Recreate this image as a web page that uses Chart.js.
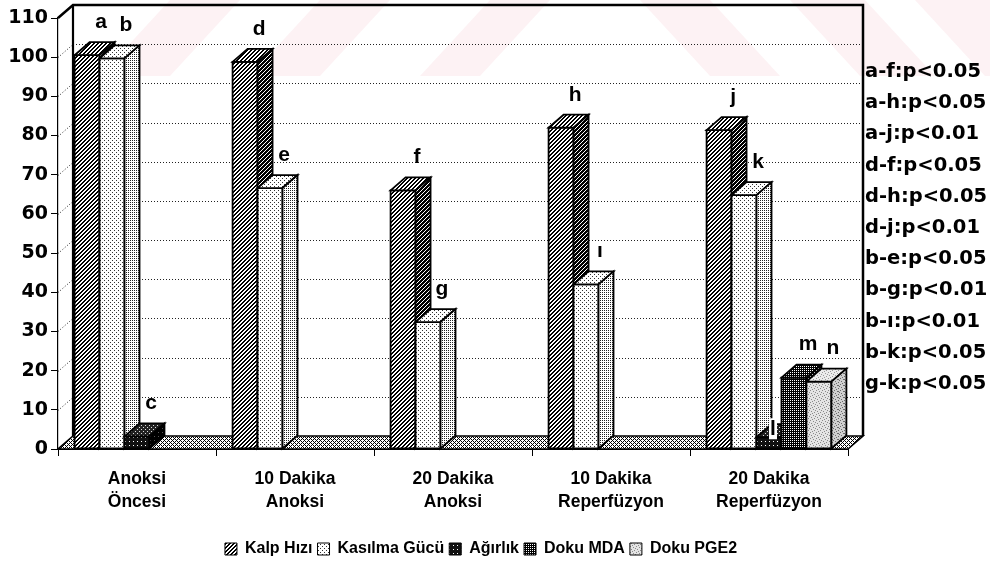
<!DOCTYPE html>
<html>
<head>
<meta charset="utf-8">
<script src="https://cdn.jsdelivr.net/npm/chart.js@4/dist/chart.umd.min.js"></script>
<style>
  html, body { margin: 0; padding: 0; background: #fff; }
  #c { display: block; }
</style>
</head>
<body>
<canvas id="c" width="990" height="577"></canvas>
<script>
// ---- data -------------------------------------------------------------
const categories = [
  ["Anoksi", "Öncesi"],
  ["10 Dakika", "Anoksi"],
  ["20 Dakika", "Anoksi"],
  ["10 Dakika", "Reperfüzyon"],
  ["20 Dakika", "Reperfüzyon"]
];
const seriesNames = ["Kalp Hızı", "Kasılma Gücü", "Ağırlık", "Doku MDA", "Doku PGE2"];
const kalpHizi    = [100.5, 98.8, 66, 82, 81.4];
const kasilmaGucu = [99.7, 66.6, 32.4, 42, 64.8];
const agirlik     = [3.2, 0, 0, 0, 3];
const dokuMDA     = [0, 0, 0, 0, 18.2];
const dokuPGE2    = [0, 0, 0, 0, 17.2];
const seriesValues = [kalpHizi, kasilmaGucu, agirlik, dokuMDA, dokuPGE2];

// letters printed above the columns (series x category, '' = none)
const barLetters = [
  ["a", "d", "f", "h", "j"],
  ["b", "e", "g", "ı", "k"],
  ["c", "",  "",  "",  "l"],
  ["",  "",  "",  "",  "m"],
  ["",  "",  "",  "",  "n"]
];
// pairwise comparison notes listed right of the plot
const significance = [
  "a-f:p<0.05", "a-h:p<0.05", "a-j:p<0.01", "d-f:p<0.05", "d-h:p<0.05",
  "d-j:p<0.01", "b-e:p<0.05", "b-g:p<0.01", "b-ı:p<0.01", "b-k:p<0.05", "g-k:p<0.05"
];
const yMin = 0, yMax = 110, yStep = 10;

// ---- fills ------------------------------------------------------------
const SANS = "'Liberation Sans', Arial, sans-serif";
const WIDE = "'DejaVu Sans', Verdana, sans-serif";
const canvas = document.getElementById('c');
const pctx = canvas.getContext('2d');

function tile(size, bg, fg, on) {
  const t = document.createElement('canvas');
  t.width = t.height = size;
  const g = t.getContext('2d');
  g.fillStyle = bg; g.fillRect(0, 0, size, size);
  g.fillStyle = fg;
  for (let y = 0; y < size; y++)
    for (let x = 0; x < size; x++)
      if (on(x, y)) g.fillRect(x, y, 1, 1);
  return pctx.createPattern(t, 'repeat');
}
const stipple = [[0,0],[3,1],[1,3],[4,4],[2,5],[5,2]];
const fills = [
  { // diagonal hatch
    front: tile(4, '#fff', '#000', (x, y) => (x + y) % 4 < 2),
    top:   tile(4, '#fff', '#000', (x, y) => (x + y) % 4 < 2),
    side:  tile(4, '#fff', '#000', (x, y) => (x + y) % 4 < 3)
  },
  { // light dots
    front: tile(4, '#fff', '#333', (x, y) => (x === 0 && y === 0) || (x === 2 && y === 2)),
    top:   tile(4, '#fff', '#333', (x, y) => (x === 0 && y === 0) || (x === 2 && y === 2)),
    side:  tile(4, '#fff', '#222', (x, y) => x % 2 === 0 && y % 2 === 0)
  },
  { // dark with white specks
    front: tile(4, '#111', '#fff', (x, y) => x === 1 && y === 1),
    top:   tile(4, '#222', '#ddd', (x, y) => (x === 1 && y === 1) || (x === 3 && y === 3)),
    side:  tile(4, '#000', '#555', (x, y) => x === 2 && y === 0)
  },
  { // dark lattice
    front: tile(4, '#000', '#fff', (x, y) => x % 2 === 0 && y % 2 === 0),
    top:   tile(4, '#000', '#fff', (x, y) => (x + y) % 2 === 0 && x % 2 === 0),
    side:  tile(4, '#000', '#bbb', (x, y) => x % 2 === 0 && y % 2 === 0)
  },
  { // light grey stipple
    front: tile(6, '#e4e4e4', '#8a8a8a', (x, y) => stipple.some(p => p[0] === x && p[1] === y)),
    top:   tile(6, '#ececec', '#999', (x, y) => stipple.some(p => p[0] === x && p[1] === y)),
    side:  tile(6, '#d0d0d0', '#6a6a6a', (x, y) => stipple.some(p => p[0] === x && p[1] === y) || (x === 4 && y === 1))
  }
];
const floorFill = tile(4, '#fff', '#000', (x, y) => (x + y) % 4 === 0 || (x - y + 4) % 4 === 0);

// ---- 3-D frame, columns and annotations -------------------------------
const DX = 15, DY = 13;   // depth offset of the back wall

function poly(ctx, pts, fill) {
  ctx.beginPath();
  ctx.moveTo(pts[0][0], pts[0][1]);
  for (let k = 1; k < pts.length; k++) ctx.lineTo(pts[k][0], pts[k][1]);
  ctx.closePath();
  if (fill) { ctx.fillStyle = fill; ctx.fill(); }
  ctx.stroke();
}

const threeD = {
  id: 'threeD',
  beforeDraw(chart) {
    // faint diagonal print along the top edge
    const ctx = chart.ctx;
    ctx.save();
    ctx.beginPath(); ctx.rect(60, 0, 930, 76); ctx.clip();
    ctx.fillStyle = 'rgba(235, 110, 135, 0.09)';
    const rise = 76, run = 70;
    [[100, 70], [250, 70], [420, 60]].forEach(([x0, w]) => {
      ctx.beginPath();
      ctx.moveTo(x0 + run, 0); ctx.lineTo(x0 + run + w, 0);
      ctx.lineTo(x0 + w, rise); ctx.lineTo(x0, rise); ctx.closePath(); ctx.fill();
    });
    [[640, 70], [790, 75], [915, 75]].forEach(([x0, w]) => {
      ctx.beginPath();
      ctx.moveTo(x0, 0); ctx.lineTo(x0 + w, 0);
      ctx.lineTo(x0 + w + run, rise); ctx.lineTo(x0 + run, rise); ctx.closePath(); ctx.fill();
    });
    ctx.restore();
  },
  beforeDatasetsDraw(chart) {
    const ctx = chart.ctx, y = chart.scales.y, a = chart.chartArea;
    const L = a.left, R = a.right, B = y.getPixelForValue(yMin), T = y.getPixelForValue(yMax);
    ctx.save();
    // dotted grid on back wall and left wall
    ctx.strokeStyle = '#222';
    ctx.lineWidth = 1;
    ctx.setLineDash([1, 2]);
    for (let v = yMin + yStep; v < yMax; v += yStep) {
      const py = Math.round(y.getPixelForValue(v)) + 0.5;
      ctx.beginPath(); ctx.moveTo(L + DX, py - DY); ctx.lineTo(R + DX, py - DY); ctx.stroke();
      ctx.beginPath(); ctx.moveTo(L, py); ctx.lineTo(L + DX, py - DY); ctx.stroke();
    }
    ctx.setLineDash([]);
    // wall outlines
    ctx.strokeStyle = '#000';
    ctx.lineWidth = 2.5;
    ctx.beginPath();
    ctx.moveTo(L, T); ctx.lineTo(L + DX, T - DY); ctx.lineTo(R + DX, T - DY); ctx.lineTo(R + DX, B - DY);
    ctx.stroke();
    ctx.lineWidth = 2.2;
    ctx.beginPath(); ctx.moveTo(L + DX, T - DY); ctx.lineTo(L + DX, B - DY); ctx.stroke();
    // floor
    ctx.lineWidth = 1.6;
    poly(ctx, [[L, B], [R, B], [R + DX, B - DY], [L + DX, B - DY]], floorFill);
    ctx.restore();
  },
  afterDatasetsDraw(chart) {
    const ctx = chart.ctx;
    ctx.save();
    ctx.strokeStyle = '#000';
    ctx.lineWidth = 1.8;
    ctx.lineJoin = 'miter';
    for (let j = 0; j < categories.length; j++) {
      for (let i = 0; i < seriesValues.length; i++) {
        if (!(seriesValues[i][j] > 0)) continue;
        const el = chart.getDatasetMeta(i).data[j];
        const l = el.x - el.width / 2, r = el.x + el.width / 2, t = el.y, b = el.base;
        poly(ctx, [[l, t], [r, t], [r, b], [l, b]], fills[i].front);
        poly(ctx, [[l, t], [l + DX, t - DY], [r + DX, t - DY], [r, t]], fills[i].top);
        poly(ctx, [[r, t], [r + DX, t - DY], [r + DX, b - DY], [r, b]], fills[i].side);
      }
    }
    ctx.restore();
  },
  afterDraw(chart) {
    const ctx = chart.ctx, a = chart.chartArea;
    ctx.save();
    ctx.fillStyle = '#000';
    ctx.textBaseline = 'middle';
    ctx.textAlign = 'center';
    ctx.font = 'bold 21px ' + SANS;
    for (let i = 0; i < barLetters.length; i++) {
      for (let j = 0; j < categories.length; j++) {
        const s = barLetters[i][j];
        if (!s) continue;
        const el = chart.getDatasetMeta(i).data[j];
        // a low column squeezed in front of a taller neighbour keeps its letter
        // beside its own top, on a light backing
        const next = i + 1 < seriesValues.length ? seriesValues[i + 1][j] : 0;
        if (next > seriesValues[i][j] + 8) {
          const px = el.x + 4, py = el.y - 8;
          ctx.fillStyle = '#fff';
          ctx.fillRect(px - 4, py - 11, 8, 21);
          ctx.fillStyle = '#000';
          ctx.fillText(s, px, py);
        } else {
          ctx.fillText(s, el.x + 14, el.y - 33);
        }
      }
    }
    ctx.textAlign = 'left';
    ctx.font = 'bold 19.5px ' + WIDE;
    significance.forEach((s, k) => ctx.fillText(s, a.right + DX + 2, 72 + k * 31.2));
    ctx.restore();
  }
};

Chart.defaults.font.family = SANS;
Chart.defaults.color = '#000';

new Chart(canvas, {
  type: 'bar',
  data: {
    labels: categories,
    datasets: seriesNames.map((name, i) => ({
      label: name,
      data: seriesValues[i],
      backgroundColor: fills[i].front,
      borderColor: '#000',
      borderWidth: 1,
      categoryPercentage: 0.79,
      barPercentage: 1
    }))
  },
  options: {
    responsive: false,
    animation: false,
    devicePixelRatio: 1,
    layout: { padding: { left: 0, right: 28, top: 18, bottom: 10 } },
    scales: {
      x: {
        grid: { offset: true, drawOnChartArea: false, drawTicks: true, tickLength: 7, color: '#000' },
        border: { display: true, color: '#000' },
        ticks: { color: '#000', font: { size: 17.5, weight: 'bold', lineHeight: 1.3 }, padding: 12, maxRotation: 0, autoSkip: false },
        afterFit: s => { s.height = 87; }
      },
      y: {
        min: yMin, max: yMax,
        ticks: { stepSize: yStep, color: '#000', font: { family: WIDE, size: 19, weight: 'bold' }, padding: 3 },
        grid: { drawOnChartArea: false, drawTicks: true, tickLength: 7, color: '#000' },
        border: { display: true, color: '#000', width: 1.2 },
        afterFit: s => { s.width = 58; }
      },
      y2: {
        position: 'right',
        grid: { display: false },
        ticks: { display: false },
        border: { display: false },
        afterFit: s => { s.width = 114; }
      }
    },
    plugins: {
      legend: {
        position: 'bottom',
        labels: {
          font: { size: 16, weight: 'bold' }, color: '#000', boxWidth: 12, boxHeight: 12, padding: 5,
          sort: (p, q) => p.datasetIndex - q.datasetIndex
        }
      },
      tooltip: { enabled: false }
    }
  },
  plugins: [threeD]
});
</script>
</body>
</html>
